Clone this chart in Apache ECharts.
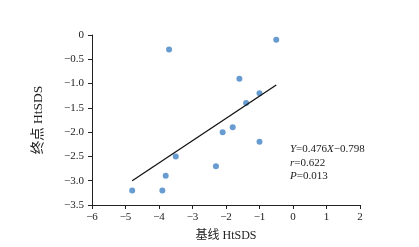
<!DOCTYPE html>
<html><head><meta charset="utf-8">
<script src="https://cdn.jsdelivr.net/npm/echarts@6/dist/echarts.min.js"></script>
<style>html,body{margin:0;padding:0;background:#fff}#c{width:419px;height:247px}</style>
</head><body><div id="c"></div>
<script>
const baselineX = [-3.7, -3.5, -3.8, -4.8, -3.9, -0.5, -1.6, -1.0, -1.4, -1.8, -2.1, -1.0, -2.3];
const endpointY = [-0.3, -2.5, -2.9, -3.2, -3.2, -0.1, -0.9, -1.2, -1.4, -1.9, -2.0, -2.2, -2.7];
const fitX = [-4.8, -0.5];
const fitY = [-3.0, -1.03];
const xTicks = [-6, -5, -4, -3, -2, -1, 0, 1, 2];
const yTicks = [0, -0.5, -1.0, -1.5, -2.0, -2.5, -3.0, -3.5];
const annotation = ['{i|Y}{n|=0.476}{i|X}{n|−0.798}', '{i|r}{n|=0.622}', '{i|P}{n|=0.013}'];

const serif = '"Liberation Serif","Noto Sans CJK SC",serif';
const fmtMinus = s => String(s).replace('-', '−');
const chart = echarts.init(document.getElementById('c'), null, {renderer: 'canvas'});
const rich = {
  i: {fontFamily: serif, fontSize: 11, fontStyle: 'italic', fill: '#222'},
  n: {fontFamily: serif, fontSize: 11, fill: '#222'}
};
chart.setOption({
  animation: false,
  backgroundColor: '#fff',
  grid: {left: 92, right: 59, top: 35, bottom: 40},
  xAxis: {
    type: 'value', min: xTicks[0], max: xTicks[xTicks.length - 1], interval: 1,
    name: '基线 HtSDS', nameLocation: 'middle', nameGap: 25,
    nameTextStyle: {fontFamily: serif, fontSize: 12, color: '#222'},
    axisLine: {onZero: false, lineStyle: {color: '#222', width: 1}},
    axisTick: {show: true, length: 4, lineStyle: {color: '#222'}},
    axisLabel: {fontFamily: serif, fontSize: 11, color: '#222', margin: 7,
      formatter: v => fmtMinus(v)},
    splitLine: {show: false}
  },
  yAxis: {
    type: 'value', min: yTicks[yTicks.length - 1], max: yTicks[0], interval: 0.5,
    name: '终点 HtSDS', nameLocation: 'middle', nameGap: 47, nameRotate: 90,
    nameTextStyle: {fontFamily: serif, fontSize: 13.5, color: '#222'},
    axisLine: {show: true, onZero: false, lineStyle: {color: '#222', width: 1}},
    axisTick: {show: true, length: 4, lineStyle: {color: '#222'}},
    axisLabel: {fontFamily: serif, fontSize: 11, color: '#222', margin: 8,
      formatter: v => v === 0 ? '0' : fmtMinus(v.toFixed(1))},
    splitLine: {show: false}
  },
  series: [
    {
      type: 'scatter', symbolSize: 6,
      itemStyle: {color: '#4283c6'},
      data: baselineX.map((x, i) => [x, endpointY[i]])
    },
    {
      type: 'line', symbol: 'none',
      lineStyle: {color: '#111', width: 1.3},
      data: fitX.map((x, i) => [x, fitY[i]])
    }
  ],
  graphic: annotation.map((t, k) => ({
    type: 'text', left: 290, top: 144 + k * 13.5,
    style: {rich: rich, text: t}
  }))
});
</script></body></html>
